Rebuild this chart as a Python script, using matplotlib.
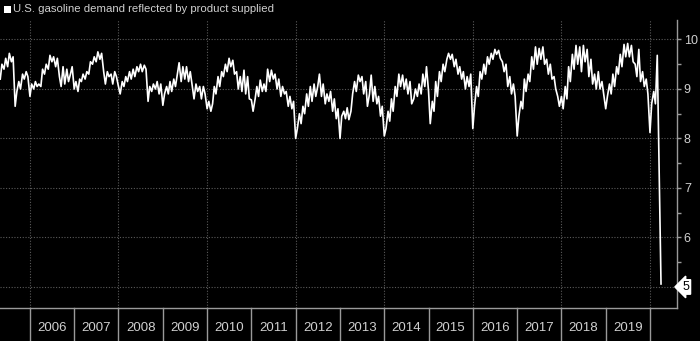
import pandas as pd
import matplotlib
matplotlib.use('Agg')
import matplotlib.pyplot as plt
import matplotlib.transforms as mtransforms
from matplotlib.patches import Rectangle

# U.S. gasoline product supplied, million barrels per day (twice a month)
v2005 = [9.20, 9.50, 9.40, 9.62, 9.45, 9.72, 9.55, 9.65, 8.65, 8.95, 9.15, 9.00, 9.30, 9.20, 9.35, 9.25]
v2006 = [8.85, 9.10, 9.00, 9.15, 9.05, 9.10, 9.05, 9.40, 9.30, 9.50, 9.40, 9.68,
         9.55, 9.65, 9.45, 9.62, 9.25, 9.05, 9.45, 9.10, 9.40, 9.15, 9.30, 9.45]
v2007 = [9.00, 9.15, 8.95, 9.20, 9.15, 9.30, 9.20, 9.35, 9.30, 9.55, 9.50, 9.65,
         9.55, 9.75, 9.60, 9.72, 9.35, 9.10, 9.35, 9.25, 9.30, 9.10, 9.35, 9.25]
v2008 = [9.05, 8.90, 9.15, 9.05, 9.25, 9.15, 9.35, 9.20, 9.40, 9.25, 9.45, 9.35,
         9.50, 9.35, 9.48, 9.40, 8.75, 9.05, 8.95, 9.10, 9.00, 9.15, 8.90, 9.10]
v2009 = [8.67, 8.90, 9.05, 8.90, 9.15, 8.95, 9.20, 9.05, 9.30, 9.53, 9.15, 9.45,
         9.20, 9.45, 9.15, 9.35, 9.05, 8.80, 9.10, 8.95, 9.05, 8.80, 9.05, 8.90]
v2010 = [8.60, 8.75, 8.55, 8.70, 9.05, 8.90, 9.25, 9.05, 9.35, 9.25, 9.50, 9.35,
         9.62, 9.45, 9.58, 9.30, 9.35, 9.00, 9.25, 8.95, 9.38, 8.90, 9.25, 8.80]
v2011 = [8.78, 8.55, 8.80, 9.05, 8.85, 9.18, 8.95, 9.10, 8.95, 9.40, 9.15, 9.38,
         9.20, 9.30, 9.00, 9.20, 8.85, 9.05, 8.90, 8.95, 8.65, 8.85, 8.60, 8.75]
v2012 = [8.00, 8.20, 8.50, 8.30, 8.65, 8.50, 8.90, 8.65, 9.05, 8.75, 9.10, 8.85,
         9.05, 9.30, 8.85, 9.10, 8.70, 8.90, 8.75, 8.95, 8.55, 8.80, 8.40, 8.60]
v2013 = [8.00, 8.45, 8.55, 8.40, 8.62, 8.38, 8.55, 8.90, 9.15, 8.95, 9.28, 9.15,
         9.25, 8.90, 9.15, 8.65, 8.90, 9.28, 8.75, 9.05, 8.70, 8.85, 8.45, 8.65]
v2014 = [8.05, 8.20, 8.55, 8.35, 8.80, 8.55, 9.05, 8.85, 9.30, 9.05, 9.28, 9.00,
         9.20, 8.90, 9.15, 8.70, 8.80, 9.00, 8.85, 9.10, 8.90, 9.30, 9.05, 9.45]
v2015 = [8.95, 8.30, 8.75, 8.55, 9.15, 8.85, 9.35, 9.15, 9.50, 9.35, 9.60, 9.72,
         9.60, 9.70, 9.45, 9.60, 9.30, 9.45, 9.20, 9.35, 9.00, 9.25, 9.05, 9.30]
v2016 = [8.20, 8.65, 9.05, 8.85, 9.35, 9.20, 9.50, 9.30, 9.65, 9.50, 9.72, 9.60,
         9.80, 9.70, 9.78, 9.62, 9.55, 9.35, 9.50, 9.05, 9.25, 8.90, 9.10, 8.85]
v2017 = [8.05, 8.45, 8.75, 8.60, 9.20, 8.95, 9.30, 9.15, 9.65, 9.40, 9.85, 9.50,
         9.82, 9.60, 9.85, 9.50, 9.60, 9.30, 9.50, 9.20, 9.25, 9.00, 8.85, 8.65]
v2018 = [8.85, 8.60, 9.05, 8.80, 9.45, 9.15, 9.70, 9.40, 9.88, 9.50, 9.85, 9.35,
         9.88, 9.55, 9.80, 9.25, 9.60, 9.10, 9.30, 9.00, 9.35, 9.00, 9.15, 8.90]
v2019 = [8.60, 8.85, 9.10, 8.90, 9.30, 9.05, 9.45, 9.30, 9.70, 9.45, 9.90, 9.65,
         9.92, 9.65, 9.88, 9.55, 9.50, 9.25, 9.80, 9.15, 9.35, 9.05, 9.20, 8.90]
v2020 = [8.12, 8.70, 8.95, 8.70, 9.68, 7.60, 5.06]

demand = (v2005 + v2006 + v2007 + v2008 + v2009 + v2010 + v2011 + v2012 + v2013
          + v2014 + v2015 + v2016 + v2017 + v2018 + v2019 + v2020)
dates = pd.date_range('2005-05-01', periods=len(demand), freq='SMS')

years = list(range(2006, 2020))
year_labels = [str(y) for y in years]
series_name = 'U.S. gasoline demand reflected by product supplied'

plt.rcParams['font.family'] = ['Liberation Sans', 'DejaVu Sans']
txt = '#d0d0d0'
axis_grey = '#9a9a9a'
grid_grey = '#5a5a5a'

fig = plt.figure(figsize=(7, 3.41), dpi=100, facecolor='black')
ax = fig.add_axes([0.0, 0.0968, 0.967, 0.8446])
ax.set_facecolor('black')

ax.plot(dates, demand, color='white', linewidth=1.2, zorder=3)

ax.set_xlim(pd.Timestamp('2005-04-29'), pd.Timestamp('2020-08-10'))
ax.set_ylim(4.575, 10.394)

# horizontal grid at every whole number, vertical grid every second year
for v in range(5, 11):
    ax.axhline(v, color=grid_grey, linestyle=(0, (1, 1.5)), linewidth=0.8, zorder=1)
for y in range(2006, 2021, 2):
    ax.axvline(pd.Timestamp(f'{y}-01-01'), color=grid_grey, linestyle=(0, (1, 1.5)),
               linewidth=0.8, zorder=1)

for s in ['left', 'top']:
    ax.spines[s].set_visible(False)
for s in ['bottom', 'right']:
    ax.spines[s].set_color(axis_grey)
    ax.spines[s].set_linewidth(1.0)

# x axis: separators below the axis at each Jan 1, year names centred between them
trans = mtransforms.blended_transform_factory(ax.transData, ax.transAxes)
for y in range(2006, 2021):
    d = pd.Timestamp(f'{y}-01-01')
    ax.plot([d, d], [0, -0.12], color=axis_grey, linewidth=1.0, transform=trans, clip_on=False)
ax.set_xticks([pd.Timestamp(f'{y}-07-02') for y in years])
ax.set_xticklabels(year_labels)
ax.tick_params(axis='x', length=0, pad=10, labelsize=9.5, labelcolor=txt)

# y axis on the right
ax.yaxis.tick_right()
ax.set_yticks(range(5, 11))
ax.set_yticklabels(['', '6', '7', '8', '9', '10'])
ax.set_yticks([5.5, 6.5, 7.5, 8.5, 9.5], minor=True)
ax.tick_params(axis='y', which='major', length=3, width=1.0, color=axis_grey, pad=2,
               labelsize=9, labelcolor=txt)
ax.tick_params(axis='y', which='minor', length=3, width=1.0, color=axis_grey)

# last value tag
ax.annotate(f'{demand[-1]:.0f}', xy=(1.0, 5.0), xycoords=('axes fraction', 'data'),
            xytext=(4, 0), textcoords='offset points', va='center', ha='left',
            fontsize=9, color='black',
            bbox=dict(boxstyle='larrow,pad=0.1', fc='white', ec='white'),
            annotation_clip=False)

# legend
fig.patches.append(Rectangle((4 / 700, 1 - 13 / 341), 7 / 700, 7 / 341,
                             transform=fig.transFigure, facecolor='white', edgecolor='none'))
fig.text(13 / 700, 1 - 9 / 341, series_name, color=txt, fontsize=8.2, va='center', ha='left')

fig.savefig('out.png', dpi=100, facecolor='black')
